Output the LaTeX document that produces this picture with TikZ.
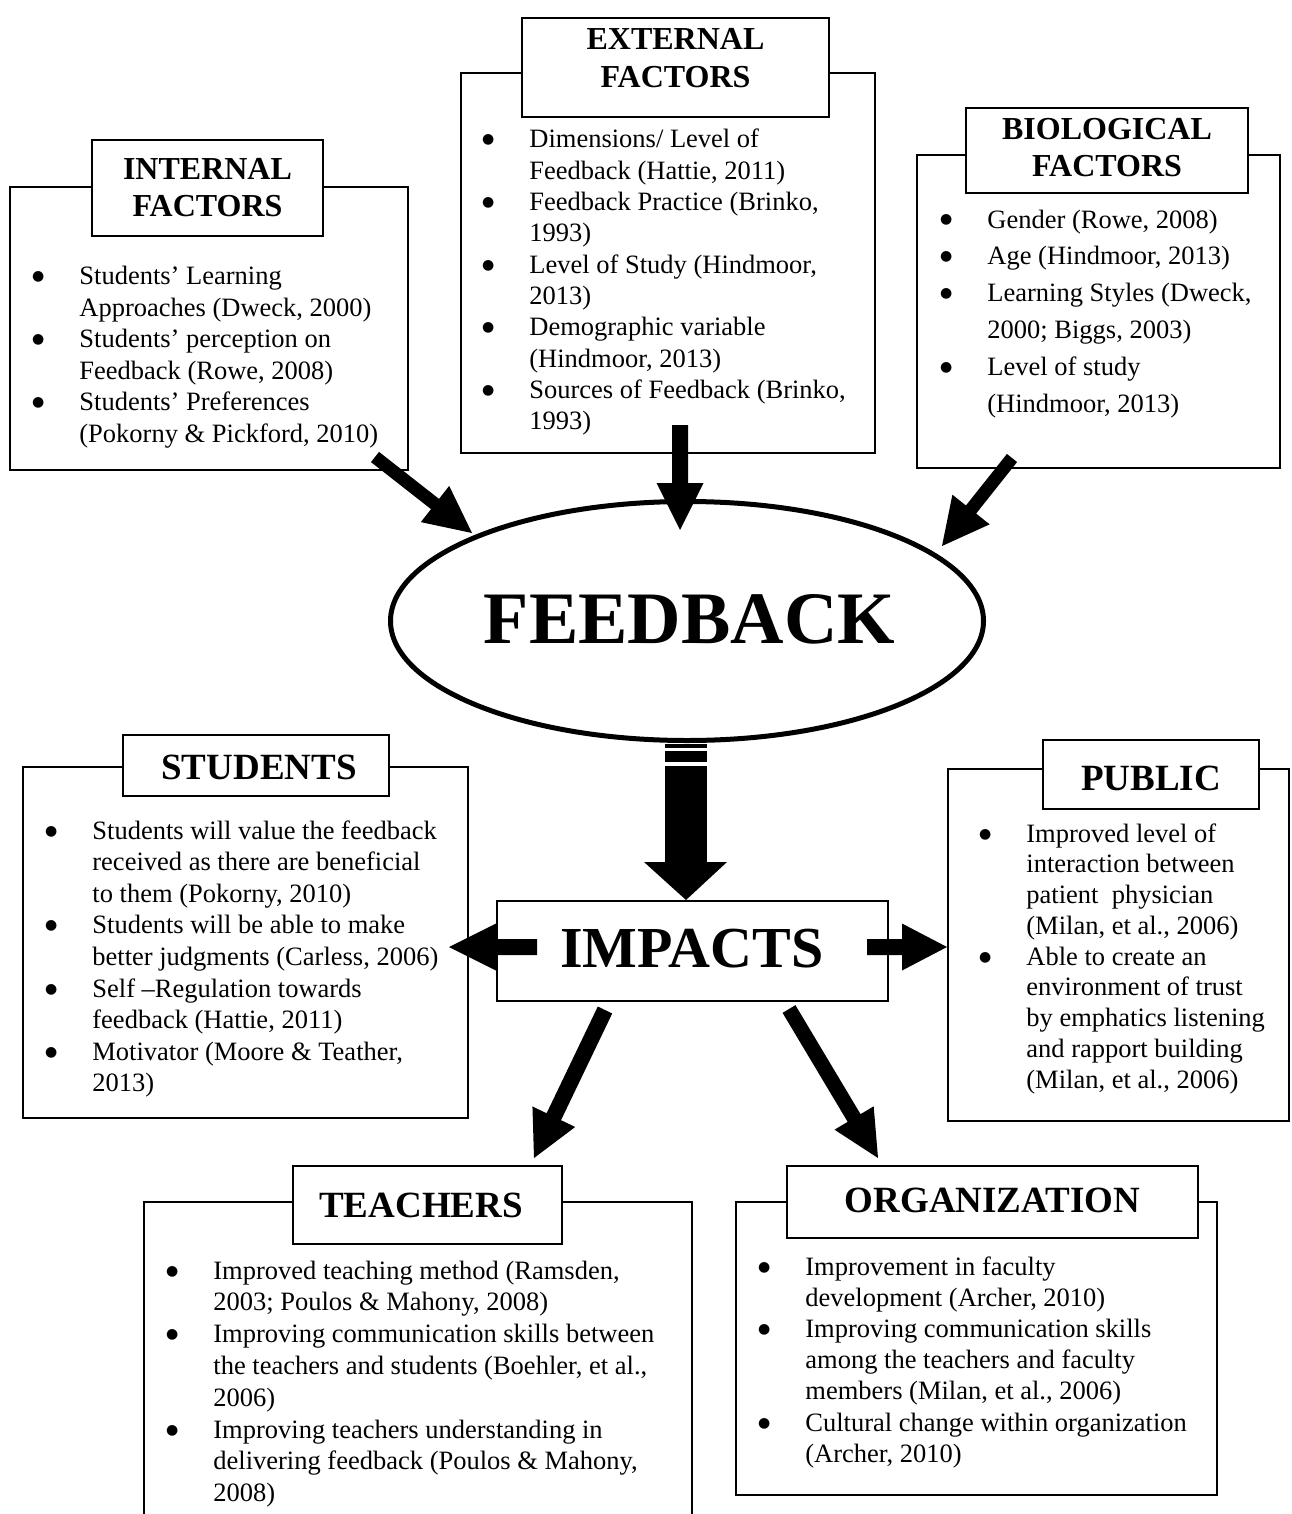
\documentclass[tikz,border=0pt]{standalone}
\usepackage{fontspec}
\setmainfont{Liberation Serif}
\newfontfamily\dotfont{DejaVu Sans}
\usetikzlibrary{calc,shapes.geometric}

% bullet hung to the left of the text column
\newcommand\bul{\llap{\makebox[23.7pt][l]{\raisebox{2pt}{\dotfont\fontsize{7pt}{7pt}\selectfont ●}}}}
% lines of a list: first line carries the baseline
\newcommand\stacklines[2]{\vtop{\baselineskip=#1\relax\lineskiplimit=-100pt\lineskip=0pt #2}}
\newcommand\bitem[1]{\hbox{\bul#1}}
\newcommand\bcont[1]{\hbox{#1}}
\newcommand\ctrline[1]{\hbox to 0pt{\hss#1\hss}}
% rectangle node from two corners (given in picture units)
\newcommand\rectnode[6][frame]{%
  \node[#1, minimum width={(#5-#3)*0.5pt}, minimum height={(#6-#4)*0.5pt}]
    (#2) at ({(#3+#5)/2},{(#4+#6)/2}) {};}
% block arrow: name, tail, tip, half shaft width, half head width, head length
\newcommand\blockarrow[6]{%
  \coordinate (#1-base) at ($(#3)!#6!(#2)$);
  \fill ($(#2)!#4!90:(#3)$) -- ($(#1-base)!#4!-90:(#2)$) -- ($(#1-base)!#5!-90:(#2)$)
    -- (#3) -- ($(#1-base)!#5!90:(#2)$) -- ($(#1-base)!#4!90:(#2)$)
    -- ($(#2)!#4!-90:(#3)$) -- cycle;}

\begin{document}
\begin{tikzpicture}[x=0.5pt,y=-0.5pt,line join=miter,
  frame/.style={draw, line width=1pt, inner sep=0pt, outer sep=0pt},
  tab/.style={frame, fill=white},
  body/.style={anchor=base west, inner sep=0pt, font=\fontsize{13.25pt}{15.7pt}\selectfont},
  headS/.style={anchor=base, inner sep=0pt, font=\fontsize{16pt}{18.5pt}\selectfont\bfseries},
  headL/.style={anchor=base, inner sep=0pt, font=\fontsize{18.5pt}{22pt}\selectfont\bfseries}]

\fill[white] (0,0) rectangle (1291,1514);
\useasboundingbox (0,0) rectangle (1291,1514);

% ---------- factor boxes ----------
\rectnode{intBox}{10}{187}{408}{470}
\rectnode[tab]{intTab}{92}{140}{323}{236}
\node[headS] (intHead) at (207.5,180) {\stacklines{18.5pt}{\ctrline{INTERNAL}\ctrline{FACTORS}}};
\node[body] (intList) at (79,285) {\stacklines{15.7pt}{%
  \bitem{Students’ Learning}\bcont{Approaches (Dweck, 2000)}%
  \bitem{Students’ perception on}\bcont{Feedback (Rowe, 2008)}%
  \bitem{Students’ Preferences}\bcont{(Pokorny \& Pickford, 2010)}}};

\rectnode{extBox}{461}{73}{875}{453}
\rectnode[tab]{extTab}{522}{18}{829}{117}
\node[headS] (extHead) at (675.5,50) {\stacklines{19pt}{\ctrline{EXTERNAL}\ctrline{FACTORS}}};
\node[body] (extList) at (529,148) {\stacklines{15.65pt}{%
  \bitem{Dimensions/ Level of}\bcont{Feedback (Hattie, 2011)}%
  \bitem{Feedback Practice (Brinko,}\bcont{1993)}%
  \bitem{Level of Study (Hindmoor,}\bcont{2013)}%
  \bitem{Demographic variable}\bcont{(Hindmoor, 2013)}%
  \bitem{Sources of Feedback (Brinko,}\bcont{1993)}}};

\rectnode{bioBox}{917}{155}{1280}{468}
\rectnode[tab]{bioTab}{966}{108}{1248}{193}
\node[headS] (bioHead) at (1107,140) {\stacklines{18.5pt}{\ctrline{BIOLOGICAL}\ctrline{FACTORS}}};
\node[body] (bioList) at (987,228) {\stacklines{18.4pt}{%
  \bitem{Gender (Rowe, 2008)}%
  \bitem{Age (Hindmoor, 2013)}%
  \bitem{Learning Styles (Dweck,}\bcont{2000; Biggs, 2003)}%
  \bitem{Level of study}\bcont{(Hindmoor, 2013)}}};

% ---------- impact boxes ----------
\rectnode{stuBox}{23}{767}{468}{1118}
\rectnode[tab]{stuTab}{123}{735}{389}{796}
\node[headL] (stuHead) at (259,779) {STUDENTS};
\node[body] (stuList) at (92,839) {\stacklines{15.8pt}{%
  \bitem{Students will value the feedback}\bcont{received as there are beneficial}\bcont{to them (Pokorny, 2010)}%
  \bitem{Students will be able to make}\bcont{better judgments (Carless, 2006)}%
  \bitem{Self –Regulation towards}\bcont{feedback (Hattie, 2011)}%
  \bitem{Motivator (Moore \& Teather,}\bcont{2013)}}};

\rectnode{pubBox}{948}{769}{1289}{1121}
\rectnode[tab]{pubTab}{1043}{740}{1259}{809}
\node[headL] (pubHead) at (1151,790) {PUBLIC};
\node[body] (pubList) at (1026,842) {\stacklines{15.375pt}{%
  \bitem{Improved level of}\bcont{interaction between}\bcont{patient\ \ physician}\bcont{(Milan, et al., 2006)}%
  \bitem{Able to create an}\bcont{environment of trust}\bcont{by emphatics listening}\bcont{and rapport building}\bcont{(Milan, et al., 2006)}}};

\rectnode{teaBox}{144}{1202}{692}{1540}
\rectnode[tab]{teaTab}{293}{1166}{562}{1244}
\node[headL] (teaHead) at (421,1217) {TEACHERS};
\node[body] (teaList) at (213,1279) {\stacklines{15.9pt}{%
  \bitem{Improved teaching method (Ramsden,}\bcont{2003; Poulos \& Mahony, 2008)}%
  \bitem{Improving communication skills between}\bcont{the teachers and students (Boehler, et al.,}\bcont{2006)}%
  \bitem{Improving teachers understanding in}\bcont{delivering feedback (Poulos \& Mahony,}\bcont{2008)}}};

\rectnode{orgBox}{736}{1202}{1217}{1495}
\rectnode[tab]{orgTab}{787}{1166}{1198}{1238}
\node[headL] (orgHead) at (992.5,1212) {ORGANIZATION};
\node[body] (orgList) at (805,1275) {\stacklines{15.6pt}{%
  \bitem{Improvement in faculty}\bcont{development (Archer, 2010)}%
  \bitem{Improving communication skills}\bcont{among the teachers and faculty}\bcont{members (Milan, et al., 2006)}%
  \bitem{Cultural change within organization}\bcont{(Archer, 2010)}}};

% ---------- centre ----------
\node[ellipse, draw, line width=2.5pt, inner sep=0pt, outer sep=0pt,
      minimum width=296.5pt, minimum height=119.5pt] (fb) at (687,621) {};
\node[anchor=base, inner sep=0pt, font=\fontsize{37pt}{44pt}\selectfont\bfseries] (fbText) at (689.5,643) {FEEDBACK};

\rectnode[tab]{imp}{497}{901}{888}{1001}
\node[anchor=base, inner sep=0pt, font=\fontsize{29pt}{34pt}\selectfont\bfseries] (impText) at (692,967) {IMPACTS};

% ---------- arrows ----------
\coordinate (aIntT) at (375,457);  \coordinate (aIntH) at (472,533);
\coordinate (aExtT) at (680,425);  \coordinate (aExtH) at (680,530);
\coordinate (aBioT) at (1012,458); \coordinate (aBioH) at (942,546);
\blockarrow{aInt}{aIntT}{aIntH}{3.25pt}{11.5pt}{23.5pt}
\blockarrow{aExt}{aExtT}{aExtH}{4pt}{11.75pt}{23.5pt}
\blockarrow{aBio}{aBioT}{aBioH}{3.25pt}{11.9pt}{23.3pt}

% striped arrow from the ellipse to the impacts box
\coordinate (aMidT) at (686,743); \coordinate (aMidH) at (686,900);
\fill ($(aMidT)+(-21,1)$) rectangle ($(aMidT)+(21,5)$);
\fill ($(aMidT)+(-21,8)$) rectangle ($(aMidT)+(21,19)$);
\fill ($(aMidT)+(-21,23)$) rectangle ($(aMidH)+(21,-38)$);
\fill ($(aMidH)+(-42,-38)$) -- ($(aMidH)+(41,-38)$) -- (aMidH) -- cycle;

\coordinate (aStuT) at (537,947);  \coordinate (aStuH) at (449,947);
\coordinate (aPubT) at (867,947);  \coordinate (aPubH) at (947,947);
\coordinate (aTeaT) at (605,1010); \coordinate (aTeaH) at (534,1158);
\coordinate (aOrgT) at (789,1009); \coordinate (aOrgH) at (878,1158);
\blockarrow{aStu}{aStuT}{aStuH}{4pt}{11.75pt}{23.5pt}
\blockarrow{aPub}{aPubT}{aPubH}{4pt}{11.75pt}{22.5pt}
\blockarrow{aTea}{aTeaT}{aTeaH}{4pt}{11.85pt}{22.9pt}
\blockarrow{aOrg}{aOrgT}{aOrgH}{3.75pt}{11.4pt}{23.3pt}
\end{tikzpicture}
\end{document}
